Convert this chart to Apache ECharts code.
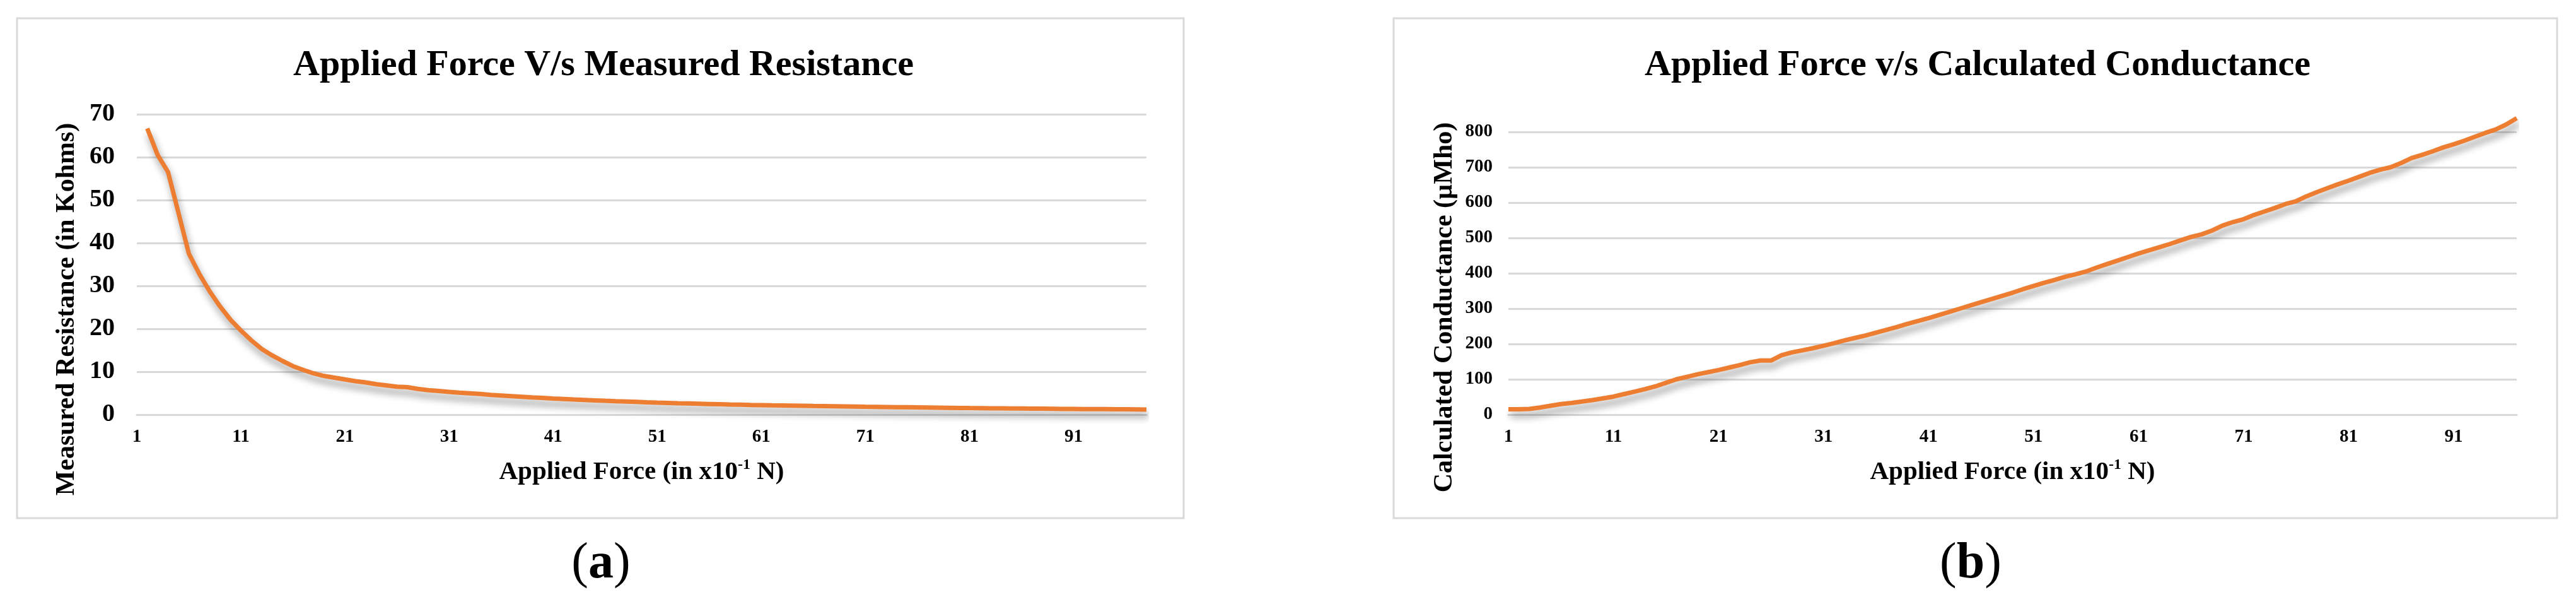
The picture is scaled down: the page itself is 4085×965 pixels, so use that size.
<!DOCTYPE html>
<html>
<head>
<meta charset="UTF-8">
<title>Applied Force charts</title>
<script src="https://cdn.jsdelivr.net/npm/echarts@6/dist/echarts.min.js"></script>
<style>
    *{margin:0;padding:0;}
    html,body{width:4085px;height:965px;background:#fff;}
    #main{width:4085px;height:965px;}
</style>
</head>
<body>
<div id="main"></div>
<script>
    // measured resistance (Kohms), first category has no reading
    var resistance = [null, 66.7, 60.5, 56.5, 47.0, 37.5, 32.8, 28.7, 25.2, 22.1,
        19.6, 17.3, 15.3, 13.8, 12.5, 11.3, 10.4, 9.6, 9.0, 8.6,
        8.2, 7.8, 7.5, 7.1, 6.8, 6.5, 6.4, 6.0, 5.7, 5.5,
        5.3, 5.1, 4.95, 4.8, 4.6, 4.45, 4.3, 4.15, 4.0, 3.9,
        3.75, 3.65, 3.52, 3.42, 3.32, 3.22, 3.13, 3.05, 2.97, 2.88,
        2.8, 2.73, 2.66, 2.6, 2.54, 2.48, 2.42, 2.36, 2.31, 2.26,
        2.22, 2.17, 2.13, 2.09, 2.05, 2.01, 1.98, 1.95, 1.91, 1.87,
        1.83, 1.8, 1.77, 1.74, 1.71, 1.68, 1.65, 1.62, 1.59, 1.56,
        1.53, 1.51, 1.48, 1.46, 1.44, 1.42, 1.4, 1.38, 1.36, 1.34,
        1.32, 1.3, 1.28, 1.27, 1.25, 1.24, 1.22, 1.19];

    // calculated conductance (uMho)
    var conductance = [15, 15, 16, 20, 25, 30, 33, 37, 41, 46,
        51, 58, 65, 72, 80, 90, 100, 107, 114, 120,
        126, 133, 140, 148, 153, 153, 168, 176, 182, 188,
        195, 202, 210, 217, 224, 232, 240, 248, 257, 265,
        273, 282, 291, 300, 309, 318, 327, 336, 345, 355,
        364, 373, 381, 390, 397, 405, 416, 426, 436, 446,
        456, 465, 474, 483, 493, 503, 510, 521, 535, 545,
        553, 565, 575, 585, 596, 604, 618, 630, 641, 652,
        662, 673, 684, 693, 700, 712, 726, 735, 745, 756,
        765, 775, 786, 797, 807, 821, 839];

    // force categories 1..N (x10^-1 N)
    var forceR = resistance.map(function (v, i) { return String(i + 1); });
    var forceG = conductance.map(function (v, i) { return String(i + 1); });

    var resAxis = {min: 0, max: 70, step: 10};
    var condAxis = {min: 0, max: 800, step: 100};

    var FONT = '"Liberation Serif", "Times New Roman", serif';
    var GRID_COLOR = '#d9d9d9';
    var LINE_COLOR = '#ed7d31';

    var xName = '{m|Applied Force (in x10}{s|-1}{m| N)}';
    var xNameStyle = {
        rich: {
            m: {fontFamily: FONT, fontWeight: 'bold', fontSize: 41, color: '#000', lineHeight: 46, verticalAlign: 'middle'},
            s: {fontFamily: FONT, fontWeight: 'bold', fontSize: 24, color: '#000', lineHeight: 24, verticalAlign: 'top'}
        }
    };

    function xAxisOf(gridIndex, cats) {
        return {
            type: 'category', gridIndex: gridIndex, data: cats, boundaryGap: false,
            axisTick: {show: false},
            axisLine: {lineStyle: {color: GRID_COLOR, width: 3}},
            axisLabel: {interval: 9, margin: 21, fontFamily: FONT, fontWeight: 'bold', fontSize: 29, color: '#000'},
            name: xName, nameLocation: 'middle', nameGap: 68, nameTextStyle: xNameStyle
        };
    }

    function lineSeries(xi, data) {
        return {
            type: 'line', xAxisIndex: xi, yAxisIndex: xi, data: data,
            showSymbol: false, clip: false,
            lineStyle: {color: LINE_COLOR, width: 7, shadowColor: 'rgba(0,0,0,0.4)', shadowBlur: 12, shadowOffsetX: 3, shadowOffsetY: 9}
        };
    }

    var myChart = echarts.init(document.getElementById('main'));
    var option = {
        backgroundColor: '#fff',
        animation: false,
        title: [
            {text: 'Applied Force V/s Measured Resistance', left: 952, top: 70, textAlign: 'center',
                textStyle: {fontFamily: FONT, fontWeight: 'bold', fontSize: 58, color: '#000'}},
            {text: 'Applied Force v/s Calculated Conductance', left: 3131, top: 70, textAlign: 'center',
                textStyle: {fontFamily: FONT, fontWeight: 'bold', fontSize: 58, color: '#000'}}
        ],
        grid: [
            {left: 217, right: 2267, top: 181, bottom: 308},
            {left: 2392, right: 94, top: 209, bottom: 308}
        ],
        xAxis: [xAxisOf(0, forceR), xAxisOf(1, forceG)],
        yAxis: [
            {type: 'value', gridIndex: 0, min: resAxis.min, max: resAxis.max, interval: resAxis.step,
                axisLine: {show: false}, axisTick: {show: false},
                splitLine: {lineStyle: {color: GRID_COLOR, width: 3}},
                axisLabel: {margin: 35, fontFamily: FONT, fontWeight: 'bold', fontSize: 40, color: '#000'}},
            {type: 'value', gridIndex: 1, min: condAxis.min, max: condAxis.max, interval: condAxis.step,
                axisLine: {show: false}, axisTick: {show: false},
                splitLine: {lineStyle: {color: GRID_COLOR, width: 3}},
                axisLabel: {margin: 25, fontFamily: FONT, fontWeight: 'bold', fontSize: 29, color: '#000'}}
        ],
        series: [lineSeries(0, resistance), lineSeries(1, conductance)],
        graphic: [
            {type: 'rect', shape: {x: 27, y: 29, width: 1850, height: 792}, style: {fill: 'none', stroke: GRID_COLOR, lineWidth: 3}, z: -1},
            {type: 'rect', shape: {x: 2210, y: 29, width: 1845, height: 792}, style: {fill: 'none', stroke: GRID_COLOR, lineWidth: 3}, z: -1},
            {type: 'text', x: 106, y: 490, rotation: Math.PI / 2,
                style: {text: 'Measured Resistance (in Kohms)', font: 'bold 42px ' + FONT, fill: '#000', align: 'center', verticalAlign: 'middle'}},
            {type: 'text', x: 2291, y: 487, rotation: Math.PI / 2,
                style: {text: 'Calculated Conductance (\u00b5Mho)', font: 'bold 42px ' + FONT, fill: '#000', align: 'center', verticalAlign: 'middle'}},
            {type: 'text', x: 953, y: 894,
                style: {text: '{p|(}{b|a}{p|)}', align: 'center', verticalAlign: 'middle',
                    rich: {p: {font: '80px ' + FONT, fill: '#000'}, b: {font: 'bold 80px ' + FONT, fill: '#000'}}}},
            {type: 'text', x: 3125, y: 894,
                style: {text: '{p|(}{b|b}{p|)}', align: 'center', verticalAlign: 'middle',
                    rich: {p: {font: '80px ' + FONT, fill: '#000'}, b: {font: 'bold 80px ' + FONT, fill: '#000'}}}}
        ]
    };
    myChart.setOption(option);
</script>
</body>
</html>
